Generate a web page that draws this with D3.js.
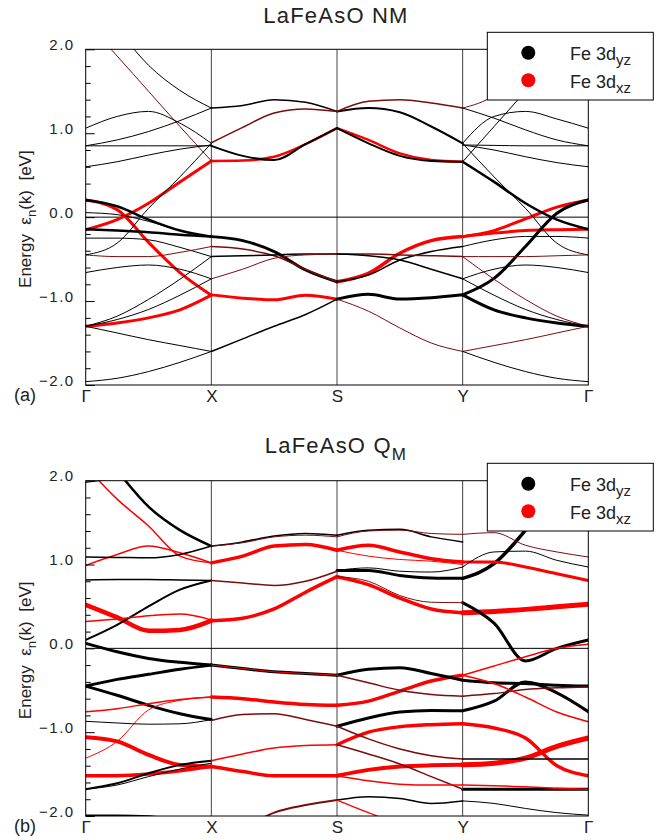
<!DOCTYPE html>
<html>
<head>
<meta charset="utf-8">
<script src="https://cdn.jsdelivr.net/npm/d3@7"></script>
<style>
  body { margin: 0; background: #fff; }
  svg { display: block; font-family: "Liberation Sans", Arial, sans-serif; }
</style>
</head>
<body>
<svg width="668" height="840"></svg>
<script>
// ---------- data ----------

const kLabels = ['Γ', 'X', 'S', 'Y', 'Γ'];
const kFrac = [0, 0.25, 0.5, 0.75, 1];
const majorTicks = [-2, -1, 0, 1, 2];
const minorTicks = [-1.8, -1.6, -1.4, -1.2, -0.8, -0.6, -0.4, -0.2, 0.2, 0.4, 0.6, 0.8, 1.2, 1.4, 1.6, 1.8];
const legendItems = [['yz', 'k'], ['xz', 'r']];

// each row: [colour, fatness, E at 0, 1/4, 1/2, 3/4, 1 of the segment]
const nmGX = [
  ['k', 1, 2.75, 2.25, 1.81, 1.51, 1.30],
  ['d', 1, 2.33, 1.92, 1.50, 1.08, 0.67],
  ['r', 3, -0.15, -0.03, 0.165, 0.42, 0.67],
  ['r', 3, 0.205, 0.09, -0.30, -0.66, -0.93],
  ['r', 3, -1.30, -1.26, -1.20, -1.105, -0.93],
  ['k', 2.5, 0.205, 0.13, -0.03, -0.16, -0.232],
  ['k', 2.5, -0.145, -0.16, -0.18, -0.21, -0.232],
  ['k', 1, 0.054, 0.03, -0.05, -0.16, -0.232],
  ['k', 1, -0.25, -0.25, -0.27, -0.36, -0.47],
  ['d', 1, -0.45, -0.47, -0.47, -0.42, -0.35],
  ['k', 1, -0.66, -0.60, -0.57, -0.62, -0.735],
  ['k', 1, -0.45, -0.31, 0.105, 0.48, 0.88],
  ['k', 1, -1.30, -1.18, -0.98, -0.74, -0.47],
  ['k', 1, -1.30, -1.22, -1.10, -0.93, -0.735],
  ['k', 1, -1.30, -1.38, -1.46, -1.53, -1.60],
  ['k', 1, -1.96, -1.92, -1.84, -1.73, -1.60],
  ['k', 1, 1.06, 1.20, 1.26, 1.12, 0.88],
  ['k', 1, 0.85, 0.92, 1.02, 1.15, 1.30],
  ['k', 1, 0.85, 0.85, 0.85, 0.85, 0.85],
  ['k', 1, 0.60, 0.66, 0.74, 0.81, 0.86],
];
const nmXS = [
  ['k', 1.5, 1.30, 1.33, 1.40, 1.37, 1.26],
  ['d', 1.5, 0.887, 1.07, 1.24, 1.29, 1.26],
  ['k', 2, 0.85, 0.73, 0.68, 0.87, 1.06],
  ['r', 2.5, 0.67, 0.675, 0.72, 0.87, 1.06],
  ['k', 3, -0.232, -0.28, -0.41, -0.63, -0.77],
  ['d', 1.5, -0.35, -0.38, -0.46, -0.62, -0.77],
  ['k', 1.5, -0.47, -0.46, -0.45, -0.44, -0.44],
  ['d', 1, -0.735, -0.62, -0.49, -0.45, -0.44],
  ['r', 3, -0.926, -0.965, -0.985, -0.93, -0.977],
  ['k', 1.5, -1.60, -1.45, -1.30, -1.16, -0.977],
];
const nmSY = [
  ['d', 1.5, 1.26, 1.38, 1.40, 1.36, 1.30],
  ['k', 2, 1.26, 1.30, 1.25, 1.08, 0.88],
  ['r', 2.5, 1.06, 0.92, 0.76, 0.68, 0.66],
  ['k', 2, 1.06, 0.88, 0.73, 0.67, 0.66],
  ['r', 3.5, -0.77, -0.67, -0.43, -0.28, -0.232],
  ['k', 1.5, -0.77, -0.69, -0.51, -0.41, -0.35],
  ['d', 1.5, -0.44, -0.44, -0.45, -0.46, -0.47],
  ['k', 1.5, -0.44, -0.46, -0.51, -0.62, -0.735],
  ['k', 3, -0.977, -0.92, -0.975, -0.96, -0.926],
  ['d', 1, -0.977, -1.12, -1.32, -1.50, -1.60],
];
const nmYG = [
  ['d', 1, 1.30, 1.45, 1.80, 2.30, 2.75],
  ['k', 1, 0.66, 1.08, 1.50, 1.92, 2.33],
  ['k', 1, 0.88, 1.20, 1.26, 1.17, 1.06],
  ['k', 1, 1.30, 1.18, 1.04, 0.92, 0.85],
  ['k', 1, 0.86, 0.855, 0.85, 0.85, 0.85],
  ['k', 1, 0.86, 0.80, 0.72, 0.65, 0.60],
  ['r', 3, -0.232, -0.16, -0.02, 0.12, 0.205],
  ['r', 3, -0.232, -0.19, -0.16, -0.15, -0.145],
  ['k', 3, -0.926, -0.73, -0.35, 0.046, 0.205],
  ['k', 2.5, 0.66, 0.42, 0.165, -0.03, -0.145],
  ['k', 1, 0.88, 0.48, 0.105, -0.31, -0.45],
  ['k', 1, -0.35, -0.27, -0.23, -0.23, -0.25],
  ['d', 1, -0.47, -0.47, -0.47, -0.46, -0.45],
  ['k', 1, -0.735, -0.62, -0.57, -0.60, -0.66],
  ['k', 3, -0.926, -1.105, -1.20, -1.26, -1.30],
  ['d', 1, -0.47, -0.74, -0.98, -1.18, -1.30],
  ['k', 1, -0.735, -0.93, -1.10, -1.22, -1.30],
  ['d', 1, -1.60, -1.53, -1.46, -1.38, -1.30],
  ['k', 1, -1.60, -1.73, -1.84, -1.92, -1.96],
];

const qmGX = [
  ['k', 1, 1.98, 2.03, 2.10, 2.20, 2.30],
  ['k', 2.5, 2.60, 2.12, 1.69, 1.41, 1.22],
  ['r', 1.5, 2.17, 1.78, 1.46, 1.10, 1.02],
  ['r', 1.5, 0.99, 1.12, 1.22, 1.14, 1.02],
  ['k', 1.5, 1.09, 1.085, 1.08, 1.12, 1.22],
  ['k', 1.5, 0.815, 0.82, 0.82, 0.815, 0.81],
  ['k', 2, 0.10, 0.28, 0.50, 0.70, 0.81],
  ['r', 4.5, 0.52, 0.37, 0.21, 0.22, 0.33],
  ['r', 1.5, 0.32, 0.35, 0.39, 0.41, 0.34],
  ['k', 3, 0.06, -0.04, -0.12, -0.167, -0.20],
  ['k', 3, -0.45, -0.37, -0.31, -0.25, -0.20],
  ['k', 3, -0.45, -0.56, -0.68, -0.78, -0.85],
  ['r', 1.5, -0.755, -0.72, -0.66, -0.61, -0.58],
  ['r', 1, -1.31, -1.11, -0.735, -0.62, -0.58],
  ['k', 1, -0.87, -0.89, -0.905, -0.90, -0.85],
  ['r', 4, -1.06, -1.11, -1.27, -1.39, -1.41],
  ['r', 3.5, -1.52, -1.52, -1.50, -1.46, -1.41],
  ['k', 2, -1.68, -1.61, -1.49, -1.39, -1.34],
  ['k', 1, -1.68, -1.63, -1.53, -1.44, -1.37],
  ['k', 1.5, -1.99, -1.99, -2.0, -2.05, -2.1],
];
const qmXS = [
  ['k', 1.5, 1.22, 1.27, 1.34, 1.37, 1.35],
  ['d', 1, 1.22, 1.26, 1.33, 1.35, 1.33],
  ['r', 3.5, 1.02, 1.10, 1.22, 1.24, 1.17],
  ['d', 1.5, 0.81, 0.78, 0.75, 0.80, 0.92],
  ['r', 3.5, 0.33, 0.36, 0.47, 0.67, 0.855],
  ['k', 3, -0.20, -0.24, -0.28, -0.30, -0.32],
  ['r', 1, -0.20, -0.24, -0.28, -0.30, -0.32],
  ['r', 3.5, -0.58, -0.60, -0.64, -0.67, -0.68],
  ['d', 1.5, -0.86, -0.79, -0.78, -0.85, -0.93],
  ['r', 1.5, -1.34, -1.26, -1.19, -1.16, -1.15],
  ['r', 3.5, -1.41, -1.47, -1.52, -1.52, -1.52],
  ['d', 2, -2.30, -2.15, -1.96, -1.87, -1.81],
];
const qmSY = [
  ['k', 1.5, 1.35, 1.41, 1.42, 1.33, 1.27],
  ['d', 1, 1.33, 1.40, 1.41, 1.37, 1.36],
  ['r', 3.5, 1.17, 1.23, 1.15, 1.07, 1.03],
  ['r', 1, 1.17, 1.10, 1.06, 1.04, 1.00],
  ['k', 1, 0.93, 0.96, 0.92, 0.91, 0.97],
  ['k', 3, 0.93, 0.93, 0.87, 0.84, 0.835],
  ['r', 3.5, 0.855, 0.76, 0.60, 0.47, 0.425],
  ['d', 1, 0.855, 0.80, 0.63, 0.55, 0.545],
  ['k', 3, -0.32, -0.25, -0.23, -0.30, -0.38],
  ['d', 1.5, -0.32, -0.41, -0.50, -0.55, -0.57],
  ['r', 3.5, -0.68, -0.63, -0.51, -0.39, -0.32],
  ['k', 3, -0.93, -0.83, -0.76, -0.74, -0.745],
  ['r', 3.5, -1.15, -1.0, -0.935, -0.91, -0.90],
  ['d', 1.5, -0.93, -1.08, -1.20, -1.28, -1.32],
  ['d', 1.5, -1.15, -1.26, -1.38, -1.53, -1.68],
  ['r', 4, -1.52, -1.45, -1.41, -1.395, -1.39],
  ['r', 1.5, -1.52, -1.58, -1.62, -1.63, -1.63],
  ['k', 1.5, -1.81, -1.77, -1.79, -1.85, -1.82],
  ['r', 1.5, -1.81, -1.96, -2.10, -2.20, -2.30],
];
const qmYG = [
  ['k', 3.5, 0.835, 1.01, 1.41, 1.90, 2.40],
  ['d', 1, 1.36, 1.38, 1.23, 1.15, 1.09],
  ['k', 1, 0.97, 1.15, 1.16, 1.05, 0.97],
  ['r', 3, 1.03, 1.03, 0.97, 0.89, 0.81],
  ['r', 5, 0.425, 0.44, 0.465, 0.495, 0.525],
  ['k', 3, 0.545, 0.30, -0.15, 0.0, 0.10],
  ['r', 1.5, -0.32, -0.21, -0.10, 0.0, 0.05],
  ['k', 3, -0.38, -0.41, -0.42, -0.44, -0.45],
  ['d', 1.5, -0.57, -0.54, -0.49, -0.47, -0.46],
  ['r', 1.5, -0.32, -0.42, -0.58, -0.76, -0.875],
  ['k', 3, -0.745, -0.63, -0.40, -0.53, -0.755],
  ['r', 3.5, -0.90, -0.95, -1.07, -1.40, -1.52],
  ['k', 1.5, -1.32, -1.32, -1.32, -1.32, -1.32],
  ['r', 5, -1.39, -1.37, -1.31, -1.17, -1.07],
  ['r', 1.5, -1.63, -1.64, -1.65, -1.67, -1.68],
  ['k', 3, -1.68, -1.68, -1.68, -1.68, -1.68],
  ['k', 1, -1.82, -1.85, -1.91, -1.96, -1.99],
];

// ---------- setup ----------

const COLORS = { k: '#000000', r: '#ff0000', d: '#7a0c0c' };
const TEXT = '#222';
const LEFT = 85.7;
const RIGHT = 588.3;

const svg = d3.select('svg');
const x = d3.scaleLinear().domain([0, 4]).range([LEFT, RIGHT]);

const panels = [
  { id: 'a', title: 'LaFeAsO NM', sub: '', top: 49.3, bottom: 385, titleY: 22.7, legendY: 32.3,
    segments: [nmGX, nmXS, nmSY, nmYG] },
  { id: 'b', title: 'LaFeAsO Q', sub: 'M', top: 480.7, bottom: 816, titleY: 453.3, legendY: 463.3,
    segments: [qmGX, qmXS, qmSY, qmYG] },
];

const drawPanel = (p) => {
  const y = d3.scaleLinear().domain([-2, 2]).range([p.bottom, p.top]);
  const g = svg.append('g');

  g.append('clipPath').attr('id', `clip-${p.id}`)
    .append('rect')
    .attr('x', LEFT).attr('y', p.top)
    .attr('width', RIGHT - LEFT).attr('height', p.bottom - p.top);

  // high symmetry lines and Fermi level
  g.append('g').selectAll('line')
    .data([1, 2, 3])
    .join('line')
    .attr('x1', d => x(d)).attr('x2', d => x(d))
    .attr('y1', p.top).attr('y2', p.bottom)
    .attr('stroke', '#444').attr('stroke-width', 1);

  g.append('line')
    .attr('x1', LEFT).attr('x2', RIGHT)
    .attr('y1', y(0)).attr('y2', y(0))
    .attr('stroke', '#000').attr('stroke-width', 1);

  // bands
  const pieces = p.segments.flatMap((rows, s) =>
    rows.map(([c, w, ...e]) => ({ c, w, pts: e.map((v, i) => [s + kFrac[i], v]) }))
  );
  pieces.sort((a, b) => b.w - a.w);

  const line = d3.line()
    .x(d => x(d[0]))
    .y(d => y(d[1]))
    .curve(d3.curveMonotoneX);

  g.append('g')
    .attr('clip-path', `url(#clip-${p.id})`)
    .selectAll('path')
    .data(pieces)
    .join('path')
    .attr('d', d => line(d.pts))
    .attr('fill', 'none')
    .attr('stroke', d => COLORS[d.c])
    .attr('stroke-width', d => d.w)
    .attr('stroke-linecap', 'round')
    .attr('stroke-linejoin', 'round');

  // frame
  g.append('rect')
    .attr('x', LEFT).attr('y', p.top)
    .attr('width', RIGHT - LEFT).attr('height', p.bottom - p.top)
    .attr('fill', 'none').attr('stroke', '#000').attr('stroke-width', 1);

  // y axis: minor ticks, then major ticks with labels
  g.append('g')
    .attr('transform', `translate(${LEFT},0)`)
    .call(d3.axisLeft(y).tickValues(minorTicks).tickSize(-5).tickFormat(''))
    .call(a => a.select('.domain').remove())
    .call(a => a.selectAll('line').attr('stroke', '#000'));

  g.append('g')
    .attr('transform', `translate(${LEFT},0)`)
    .call(d3.axisLeft(y).tickValues(majorTicks).tickSize(-9).tickPadding(11)
      .tickFormat(d => d3.format('.1f')(d).replace('-', '−')))
    .call(a => a.select('.domain').remove())
    .call(a => a.selectAll('line').attr('stroke', '#000'))
    .call(a => a.selectAll('text')
      .attr('dy', 0)
      .attr('fill', TEXT)
      .style('font-size', '15px')
      .style('letter-spacing', '1.5px'));

  // k-path labels
  g.append('g')
    .attr('transform', `translate(0,${p.bottom})`)
    .call(d3.axisBottom(x).tickValues([0, 1, 2, 3, 4]).tickSize(0).tickPadding(0)
      .tickFormat((d, i) => kLabels[i]))
    .call(a => a.select('.domain').remove())
    .call(a => a.selectAll('text')
      .attr('y', 17).attr('dy', 0)
      .attr('fill', TEXT)
      .style('font-size', '17px'));

  // panel tag
  g.append('text')
    .attr('x', 14).attr('y', p.bottom + 16)
    .attr('fill', TEXT)
    .style('font-size', '18px')
    .text(`(${p.id})`);

  // title
  const title = g.append('text')
    .attr('x', 336).attr('y', p.titleY)
    .attr('text-anchor', 'middle')
    .attr('fill', TEXT)
    .style('font-size', '22px')
    .style('letter-spacing', '1.2px')
    .text(p.title);
  if (p.sub) {
    title.append('tspan')
      .attr('dy', 7)
      .style('font-size', '17px')
      .text(p.sub);
  }

  // y label
  const mid = (p.top + p.bottom) / 2;
  const yl = g.append('text')
    .attr('transform', `translate(31,${mid + 2}) rotate(-90)`)
    .attr('text-anchor', 'middle')
    .attr('fill', TEXT)
    .style('font-size', '17px')
    .style('white-space', 'pre');
  yl.append('tspan').text('Energy  ε');
  yl.append('tspan').attr('dy', 5).style('font-size', '13px').text('n');
  yl.append('tspan').attr('dy', -5).text('(k)  [eV]');

  // legend
  const lg = g.append('g').attr('transform', `translate(487.3,${p.legendY})`);
  lg.append('rect')
    .attr('width', 166).attr('height', 67.7)
    .attr('fill', '#fff').attr('stroke', '#000').attr('stroke-width', 1);
  const rows = lg.selectAll('g.row')
    .data(legendItems)
    .join('g')
    .attr('class', 'row')
    .attr('transform', (d, i) => `translate(0,${20.4 + i * 27.5})`);
  rows.append('circle')
    .attr('cx', 41).attr('r', 7)
    .attr('fill', d => COLORS[d[1]]);
  const lt = rows.append('text')
    .attr('x', 82.7).attr('y', 7.3)
    .attr('fill', TEXT)
    .style('font-size', '18px')
    .text('Fe 3d');
  lt.append('tspan')
    .attr('dy', 5)
    .style('font-size', '15px')
    .text(d => d[0]);
};

panels.forEach(drawPanel);
</script>
</body>
</html>
